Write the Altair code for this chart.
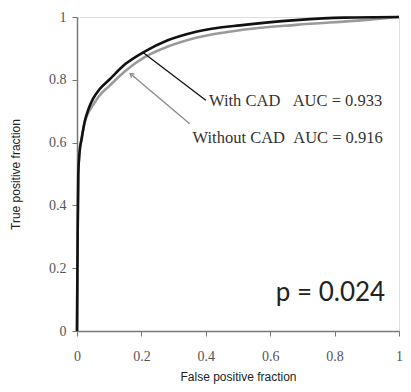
import altair as alt
import pandas as pd

# ROC curve points
with_fpf = [0, 0.002, 0.004, 0.008, 0.014, 0.024, 0.035, 0.05, 0.07, 0.1, 0.15, 0.21, 0.28, 0.37, 0.52, 0.68, 0.83, 1.0]
with_tpf = [0, 0.30, 0.50, 0.57, 0.61, 0.667, 0.705, 0.74, 0.77, 0.80, 0.85, 0.89, 0.925, 0.953, 0.975, 0.99, 0.998, 1.0]
without_fpf = [0, 0.002, 0.004, 0.008, 0.014, 0.024, 0.035, 0.05, 0.07, 0.1, 0.15, 0.21, 0.28, 0.37, 0.52, 0.68, 0.89, 1.0]
without_tpf = [0, 0.30, 0.50, 0.57, 0.61, 0.665, 0.695, 0.72, 0.75, 0.78, 0.828, 0.872, 0.905, 0.934, 0.96, 0.975, 0.99, 1.0]

NB = "\u00a0"
labels = ["With CAD" + NB * 3 + "AUC = 0.933", "Without CAD" + NB * 2 + "AUC = 0.916"]
label_x = [0.41, 0.359]
label_y = [0.731, 0.615]

# annotation leader lines: (x, y) start -> (x2, y2) end (arrow tip)
lead_x = [0.40, 0.35]
lead_y = [0.735, 0.66]
lead_x2 = [0.205, 0.165]
lead_y2 = [0.887, 0.82]
lead_color = ["#111111", "#8a8a8a"]

p_text = "p = 0.024"

curves = pd.DataFrame(
    [{"fpf": x, "tpf": y, "series": "Without CAD", "order": i} for i, (x, y) in enumerate(zip(without_fpf, without_tpf))]
    + [{"fpf": x, "tpf": y, "series": "With CAD", "order": i} for i, (x, y) in enumerate(zip(with_fpf, with_tpf))]
)

xs = alt.Scale(domain=[0, 1], nice=False, zero=False)
ys = alt.Scale(domain=[0, 1], nice=False, zero=False)

xaxis = alt.Axis(title="False positive fraction", values=[0, 0.2, 0.4, 0.6, 0.8, 1], format=".1~f",
                 grid=False, labelFont="Liberation Serif", labelFontSize=14, labelColor="#555555",
                 labelPadding=13, tickSize=5, titleFont="Liberation Sans", titleFontSize=12,
                 titleFontWeight="normal", titleColor="#222222", titlePadding=8,
                 domainColor="#777777", tickColor="#777777", domainWidth=1.5, labelFlush=False)
yaxis = alt.Axis(title="True positive fraction", values=[0, 0.2, 0.4, 0.6, 0.8, 1], format=".1~f",
                 grid=False, labelFont="Liberation Serif", labelFontSize=14, labelColor="#555555",
                 labelPadding=6, tickSize=5, titleFont="Liberation Sans", titleFontSize=12,
                 titleFontWeight="normal", titleColor="#222222", titlePadding=26,
                 domainColor="#777777", tickColor="#777777", domainWidth=1.5, labelFlush=False)

lines = alt.Chart(curves).mark_line(strokeWidth=2.6, interpolate="monotone").encode(
    x=alt.X("fpf:Q", scale=xs, axis=xaxis),
    y=alt.Y("tpf:Q", scale=ys, axis=yaxis),
    color=alt.Color("series:N", scale=alt.Scale(domain=["Without CAD", "With CAD"], range=["#9a9a9a", "#111111"]), legend=None),
    order="order:Q",
    detail="series:N",
)

lead_df = pd.DataFrame({"x": lead_x, "y": lead_y, "x2": lead_x2, "y2": lead_y2, "c": lead_color})
leads = alt.Chart(lead_df).mark_rule(strokeWidth=1.3).encode(
    x=alt.X("x:Q", scale=xs), y=alt.Y("y:Q", scale=ys),
    x2="x2:Q", y2="y2:Q",
    color=alt.Color("c:N", scale=None),
)

head_df = pd.DataFrame({"x": [lead_x2[1]], "y": [lead_y2[1]]})
head = alt.Chart(head_df).mark_point(
    shape="M-0.6,1L0,0L0.6,1", filled=False, size=60, strokeWidth=1.3, color="#8a8a8a", angle=310, opacity=1
).encode(x=alt.X("x:Q", scale=xs), y=alt.Y("y:Q", scale=ys))

text_df = pd.DataFrame({"x": label_x, "y": label_y, "t": labels})
texts = alt.Chart(text_df).mark_text(
    align="left", baseline="middle", font="Liberation Serif", fontSize=16.5, color="#333333"
).encode(x=alt.X("x:Q", scale=xs), y=alt.Y("y:Q", scale=ys), text="t:N")

p_df = pd.DataFrame({"x": [0.957], "y": [0.097], "t": [p_text]})
ptext = alt.Chart(p_df).mark_text(
    align="right", baseline="alphabetic", font="Lato", fontSize=26, color="#222222"
).encode(x=alt.X("x:Q", scale=xs), y=alt.Y("y:Q", scale=ys), text="t:N")

chart = alt.layer(lines, leads, head, texts, ptext).properties(
    width=322, height=314,
    autosize=alt.AutoSizeParams(type="none"),
    padding={"left": 69, "top": 9, "right": 4, "bottom": 53},
).configure_view(stroke="#888888", strokeWidth=1.5).configure(background="white")

chart.save("out.html", embed_options={"renderer": "svg", "actions": False})
